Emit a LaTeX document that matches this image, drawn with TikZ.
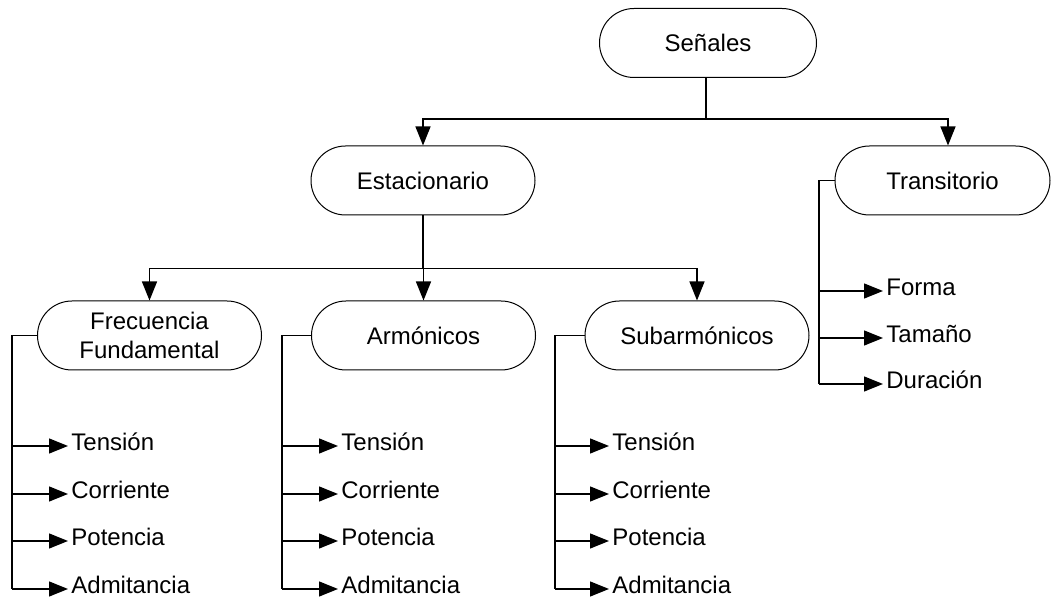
\documentclass[tikz,border=0pt]{standalone}
\usepackage{fontspec}
\setmainfont{Liberation Sans}
\usetikzlibrary{arrows.meta,calc,shapes.misc}
\begin{document}
\begin{tikzpicture}[x=0.5pt,y=-0.5pt,
  every node/.style={font=\fontsize{12pt}{14.5pt}\selectfont},
  box/.style={draw, line width=0.5pt, rounded rectangle, minimum width=112pt,
    minimum height=34.5pt, align=center, inner sep=0pt},
  link/.style={line width=0.65pt},
  arr/.style={link, -{Triangle[length=9.5pt,width=7.5pt]}},
  leaf/.style={anchor=west, inner sep=1.5pt, text height=5pt, text depth=0pt}
]
\useasboundingbox (0,0) rectangle (1051,603);

% main boxes
\node[box, minimum width=108.5pt] (sen) at (708,43) {Señales};
\node[box] (est) at (423,180.5) {Estacionario};
\node[box, minimum width=107.5pt] (tra) at (942.5,180.5) {Transitorio};
\node[box] (fre) at (149.5,335.5) {Frecuencia\\Fundamental};
\node[box] (arm) at (423.5,335.5) {Armónicos};
\node[box] (sub) at (697,335.5) {Subarmónicos};

% first level split
\coordinate (j1) at ($(sen.south)+(-2,41)$);
\draw[link] (sen.south -| j1) -- (j1);
\draw[arr] (j1) -| (est.north);
\draw[arr] (j1) -| ($(tra.north)+(5.5,0)$);

% second level split
\coordinate (j2) at ($(est.south)+(0,53)$);
\draw[link] (est.south) -- (j2);
\draw[arr] (j2) -| (fre.north);
\draw[arr] (j2) -| (arm.north);
\draw[arr] (j2) -| (sub.north);

% measured quantities under each steady-state branch
\foreach \p/\tx/\tip in {fre/12/68, arm/282/338, sub/555/609}{
  \node[leaf] (\p1) at (\tip,446) {Tensión};
  \node[leaf] (\p2) at (\tip,494) {Corriente};
  \node[leaf] (\p3) at (\tip,541) {Potencia};
  \node[leaf] (\p4) at (\tip,589) {Admitancia};
  \coordinate (\p x) at (\tx,0);
  \draw[link] (\p.west) -| (\p x |- \p4.west);
  \foreach \i in {1,2,3,4}{
    \draw[arr] (\p x |- \p\i.west) -- (\p\i.west);
  }
}

% transient branch
\node[leaf] (t1) at (883,291) {Forma};
\node[leaf] (t2) at (883,338) {Tamaño};
\node[leaf] (t3) at (883,384) {Duración};
\coordinate (tx) at (819,0);
\draw[link] (tra.west) -| (tx |- t3.west);
\foreach \i in {1,2,3}{
  \draw[arr] (tx |- t\i.west) -- (t\i.west);
}
\end{tikzpicture}
\end{document}
